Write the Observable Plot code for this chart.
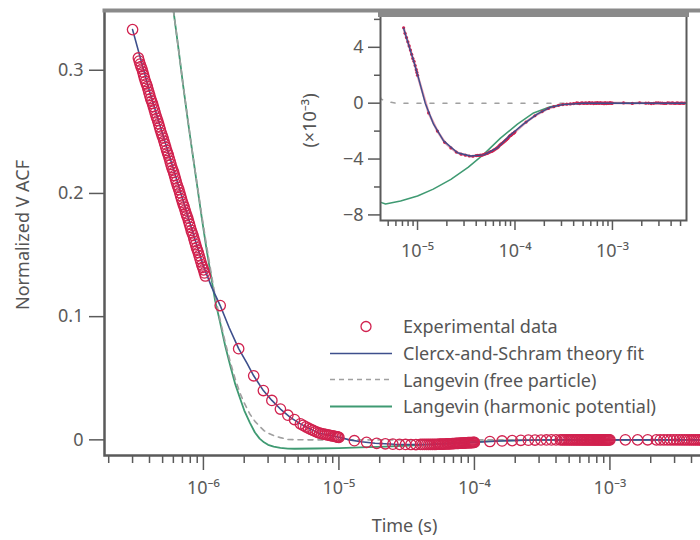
<!DOCTYPE html>
<html><head><meta charset="utf-8">
<script src="https://cdn.jsdelivr.net/npm/d3@7"></script>
<script src="https://cdn.jsdelivr.net/npm/@observablehq/plot@0.6"></script>
<style>
html,body{margin:0;padding:0;background:#fff;overflow:hidden;}
#wrap{position:relative;width:700px;height:540px;overflow:hidden;font-family:"Noto Sans",sans-serif;}
#main,#inset{position:absolute;top:0;}
#main{left:0;width:720px;} #inset{left:300px;width:400px;}
#main svg,#inset svg{max-width:none !important;}
#legend{position:absolute;left:330px;top:313px;font-size:18px;color:#555;}
.row{display:flex;align-items:center;height:26.7px;white-space:nowrap;}
.row svg{flex:none;}
</style></head><body>
<div id="wrap"><div id="main"></div><div id="inset"></div><div id="legend"></div></div>
<script>
// ---------- data (time in microseconds, normalized VACF) ----------
const expTime = [0.30,
 0.331,0.341,0.352,0.362,0.373,0.385,0.396,0.408,0.421,0.434,0.447,0.460,0.474,0.489,0.504,0.519,0.535,0.551,0.568,0.585,
 0.603,0.621,0.640,0.659,0.679,0.700,0.721,0.743,0.766,0.789,0.813,0.838,0.863,0.889,0.916,0.944,0.973,1.002,1.033,
 0.336,0.346,0.357,0.367,0.379,0.390,0.402,0.414,0.427,0.440,0.453,0.467,0.481,0.496,0.511,0.527,0.543,0.559,0.576,0.594,
 0.612,0.630,0.649,0.669,0.689,0.710,0.732,0.754,0.777,0.801,0.825,0.850,0.876,0.902,0.930,0.958,0.987,1.017,
 1.33,1.82,2.35,2.77,3.2,3.7,4.2,4.7,5.2,5.7,6.2,6.7,7.2,7.7,8.2,8.7,9.2,9.7,
 5.45,5.95,6.45,6.95,7.45,7.95,8.45,8.95,9.45,9.85,
 10,13,16,19,22,25,28,31,34,37,40,43,46,49,52,55,58,61,64,67,70,73,76,79,82,85,88,91,94,97,100,
 41.5,44.5,47.5,50.5,53.5,56.5,59.5,62.5,65.5,68.5,71.5,74.5,77.5,80.5,83.5,86.5,89.5,92.5,95.5,98.5,
 130,160,190,220,250,280,310,340,370,400,430,460,490,520,550,580,610,640,670,700,730,760,790,820,850,880,910,940,970,1000,
 445,475,505,535,565,595,625,655,685,715,745,775,805,835,865,895,925,955,985,
 1300,1600,1900,2200,2500,2800,3100,3400,3700,4000,4300,4600,4900,5200,5500,
 2350,2650,2950,3250,3550,3850,4150,4450,4750,5050,5350];
const expVACF = [0.333,
 0.310,0.305,0.301,0.296,0.291,0.287,0.282,0.277,0.273,0.268,0.263,0.259,0.254,0.249,0.245,0.240,0.235,0.231,0.226,0.221,
 0.217,0.212,0.207,0.203,0.198,0.193,0.189,0.184,0.180,0.175,0.170,0.166,0.161,0.156,0.152,0.147,0.142,0.138,0.133,
 0.3075,0.303,0.2985,0.2935,0.289,0.2845,0.2795,0.275,0.2705,0.2655,0.261,0.2565,0.2515,0.247,0.2425,0.2375,0.233,0.2285,0.2235,0.219,
 0.2145,0.2095,0.205,0.2005,0.1955,0.191,0.1865,0.182,0.1775,0.1725,0.168,0.1635,0.1585,0.154,0.1495,0.1445,0.140,0.1355,
 0.109,0.074,0.052,0.040,0.032,0.025,0.020,0.0165,0.013,0.0105,0.0085,0.0068,0.0054,0.0047,0.0041,0.0035,0.0030,0.0024,
 0.0118,0.0095,0.0077,0.0061,0.0050,0.0044,0.0038,0.0032,0.0027,0.0022,
 0.0020,-0.0007,-0.0020,-0.0028,-0.0032,-0.0035,-0.00365,-0.00372,-0.00378,-0.0038,-0.00375,-0.00373,-0.00372,-0.00365,-0.0036,-0.0035,-0.00345,-0.00335,-0.00325,-0.00315,-0.0030,-0.0029,-0.0028,-0.0027,-0.0026,-0.0025,-0.00235,-0.0023,-0.0022,-0.00215,-0.00205,
 -0.00374,-0.00372,-0.00368,-0.00362,-0.00355,-0.00347,-0.0034,-0.0033,-0.0032,-0.00307,-0.00295,-0.00285,-0.00275,-0.00265,-0.00255,-0.00242,-0.00232,-0.00225,-0.00217,-0.0021,
 -0.00135,-0.0009,-0.0006,-0.00038,-0.00025,-0.00015,-0.0001,-0.00007,-0.00005,-0.00003,0.00002,-0.00003,0.00003,0,-0.00002,0.00004,0.00001,-0.00003,0.00002,0.00004,-0.00001,0.00003,0,-0.00004,0.00002,0.00001,-0.00002,0.00003,0,0.00001,
 0,0.00001,-0.00002,0.00002,0.00001,-0.00001,0.00003,0,-0.00002,0.00001,0.00002,-0.00001,0,0.00002,-0.00003,0.00001,0,0.00002,-0.00001,
 0.00002,-0.00002,0.00003,0,-0.00003,0.00002,0.00001,-0.00002,0.00003,0,-0.00001,0.00002,-0.00002,0.00001,0,
 0.00001,-0.00001,0.00002,0,-0.00002,0.00001,0.00002,-0.00001,0,0.00001,-0.00001];

const fitTime = [0.30,0.40,0.50,0.60,0.70,0.80,0.90,1.0,1.15,1.33,1.55,1.82,2.1,2.35,2.77,3.2,3.7,4.4,5.2,6.2,7.2,8.0,8.9,10.2,12,14.6,18.5,25.7,35,48,66,89,122,169,230,310,500,1000,6000];
const fitVACF = [0.333,0.283,0.248,0.220,0.196,0.175,0.157,0.141,0.124,0.109,0.091,0.074,0.062,0.052,0.040,0.032,0.025,0.018,0.013,0.0085,0.00536,0.0043,0.00327,0.00184,0,-0.0015,-0.0027,-0.00355,-0.00378,-0.0037,-0.0032,-0.0023,-0.0015,-0.00078,-0.0003,-0.0001,0,0,0];

const freeTime = [0.55,0.60,0.65,0.71,0.77,0.83,0.90,0.97,1.05,1.13,1.22,1.33,1.45,1.58,1.72,1.86,2.0,2.2,2.4,2.6,2.8,3.0,3.3,3.7,4.2,5.0,6.0,10,100,1000,6000];
const freeVACF = [0.381,0.349,0.320,0.287,0.259,0.233,0.207,0.183,0.159,0.138,0.117,0.097,0.079,0.063,0.049,0.038,0.030,0.021,0.015,0.011,0.0075,0.0055,0.0035,0.0018,0.0003,0.0001,0,0,0,0,0];

const harmTime = [0.55,0.60,0.65,0.71,0.77,0.83,0.90,0.97,1.05,1.13,1.22,1.33,1.45,1.58,1.72,1.86,2.0,2.2,2.4,2.6,2.8,3.0,3.3,3.7,4.2,4.7,6.7,10,14.5,22,33,48,71,106,155,230,340,500,1000,6000];
const harmVACF = [0.381,0.349,0.320,0.287,0.258,0.233,0.206,0.181,0.156,0.135,0.113,0.095,0.076,0.060,0.045,0.034,0.024,0.014,0.006,0.001,-0.002,-0.004,-0.0055,-0.0065,-0.0071,-0.00722,-0.0070,-0.00665,-0.00615,-0.00545,-0.0046,-0.00365,-0.0025,-0.0015,-0.0007,-0.00025,-0.00005,0,0,0];

const seriesNames = ["Experimental data","Clercx-and-Schram theory fit","Langevin (free particle)","Langevin (harmonic potential)"];
const colors = {exp:"#d1224f", fit:"#3d4f8c", free:"#a0a0a0", harm:"#3f9a72"};

const mainYTicks = [0,0.1,0.2,0.3];
const mainYLabels = ["0","0.1","0.2","0.3"];
const mainXMajor = [1e-6,1e-5,1e-4,1e-3];
const mainXLabels = ["10\u207B\u2076","10\u207B\u2075","10\u207B\u2074","10\u207B\u00B3"];
const mainXMinor = [2e-7,3e-7,4e-7,5e-7,6e-7,7e-7,8e-7,9e-7,2e-6,3e-6,4e-6,5e-6,6e-6,7e-6,8e-6,9e-6,2e-5,3e-5,4e-5,5e-5,6e-5,7e-5,8e-5,9e-5,2e-4,3e-4,4e-4,5e-4,6e-4,7e-4,8e-4,9e-4,2e-3,3e-3,4e-3,5e-3,6e-3];

const insetYTicks = [-8,-4,0,4];
const insetYLabels = ["\u22128","\u22124","0","4"];
const insetYMinor = [-6,-2,2,6];
const insetXMajor = [1e-5,1e-4,1e-3];
const insetXLabels = ["10\u207B\u2075","10\u207B\u2074","10\u207B\u00B3"];
const insetXMinor = [5e-6,6e-6,7e-6,8e-6,9e-6,2e-5,3e-5,4e-5,5e-5,6e-5,7e-5,8e-5,9e-5,2e-4,3e-4,4e-4,5e-4,6e-4,7e-4,8e-4,9e-4,2e-3,3e-3,4e-3,5e-3];

// ---------- tables ----------
const US = 1e-6;
const tbl = (T, V, k = 1) => T.map((t, i) => ({t: t * US, v: V[i] * k})).sort((a, b) => a.t - b.t);
const exp = tbl(expTime, expVACF), fit = tbl(fitTime, fitVACF), free = tbl(freeTime, freeVACF), harm = tbl(harmTime, harmVACF);
const insetMin = 7.0 * US;
const expI = tbl(expTime, expVACF, 1000).filter(d => d.t >= insetMin);
const fitI = tbl(fitTime, fitVACF, 1000).filter(d => d.t >= insetMin);
const freeI = tbl(freeTime, freeVACF, 1000);
const harmI = tbl(harmTime, harmVACF, 1000);

const font = {fontFamily: "'Noto Sans', sans-serif", fontSize: "18px", color: "#5a5a5a", background: "transparent", overflow: "visible", maxWidth: "none"};

const main = Plot.plot({
  width: 720, height: 540,
  marginLeft: 104, marginRight: 0, marginTop: 10, marginBottom: 85,
  style: font,
  x: {type: "log", domain: [10 ** -6.73, 10 ** -2.184]},
  y: {domain: [-0.0127, 0.3485]},
  marks: [
    Plot.axisY({ticks: mainYTicks, tickSize: 15, tickPadding: 6, strokeWidth: 1.5, tickFormat: d => mainYLabels[mainYTicks.indexOf(d)], label: null}),
    Plot.axisX({ticks: mainXMinor, tickSize: 8, strokeWidth: 1.5, tickFormat: () => "", label: null}),
    Plot.axisX({ticks: mainXMajor, tickSize: 15, tickPadding: 11, strokeWidth: 1.5, tickFormat: d => mainXLabels[mainXMajor.indexOf(d)], label: null}),
    Plot.line(harm, {x: "t", y: "v", stroke: colors.harm, strokeWidth: 1.8, clip: true}),
    Plot.line(free, {x: "t", y: "v", stroke: colors.free, strokeWidth: 1.6, strokeDasharray: "5,5", clip: true}),
    Plot.line(fit, {x: "t", y: "v", stroke: colors.fit, strokeWidth: 1.6, clip: true}),
    Plot.dot(exp, {x: "t", y: "v", r: 5.2, fill: "none", stroke: colors.exp, strokeWidth: 1.3, clip: true}),
    Plot.frame({stroke: "#5a5a5a", strokeWidth: 2.5}),
    Plot.frame({anchor: "top", stroke: "#8a8a8a", strokeWidth: 4}),
    Plot.text(["Time (s)"], {text: d => d, frameAnchor: "bottom", textAnchor: "middle", dx: -8, dy: 76, fill: "#555"}),
    Plot.text(["Normalized V ACF"], {text: d => d, frameAnchor: "left", textAnchor: "middle", rotate: -90, dx: -81, dy: 2, fill: "#555"})
  ]
});
document.getElementById("main").append(main);

const inset = Plot.plot({
  width: 400, height: 265,
  marginLeft: 80, marginRight: 14, marginTop: 14, marginBottom: 45,
  style: font,
  x: {type: "log", domain: [10 ** -5.38, 10 ** -2.24]},
  y: {domain: [-8.4, 6.35]},
  marks: [
    Plot.axisY({ticks: insetYMinor, tickSize: 6, strokeWidth: 1.5, tickFormat: () => "", label: null}),
    Plot.axisY({ticks: insetYTicks, tickSize: 12, tickPadding: 5, strokeWidth: 1.5, tickFormat: d => insetYLabels[insetYTicks.indexOf(d)], label: null}),
    Plot.axisX({ticks: insetXMinor, tickSize: 6, strokeWidth: 1.5, tickFormat: () => "", label: null}),
    Plot.axisX({ticks: insetXMajor, tickSize: 10, tickPadding: 14, strokeWidth: 1.5, tickFormat: d => insetXLabels[insetXMajor.indexOf(d)], label: null}),
    Plot.line(freeI, {x: "t", y: "v", stroke: colors.free, strokeWidth: 1.6, strokeDasharray: "4,9", clip: true}),
    Plot.line(harmI, {x: "t", y: "v", stroke: colors.harm, strokeWidth: 1.5, clip: true}),
    Plot.line(expI, {x: "t", y: "v", stroke: colors.exp, strokeWidth: 2.5, strokeOpacity: 0.45, clip: true}),
    Plot.dot(expI, {x: "t", y: "v", r: 1.6, fill: colors.exp, clip: true}),
    Plot.line(fitI, {x: "t", y: "v", stroke: colors.fit, strokeWidth: 1.4, clip: true}),
    Plot.frame({stroke: "#5a5a5a", strokeWidth: 2}),
    Plot.frame({anchor: "top", stroke: "#8a8a8a", strokeWidth: 5}),
    Plot.text(["(\u00D710\u207B\u00B3)"], {text: d => d, frameAnchor: "left", textAnchor: "middle", rotate: -90, dx: -70, dy: 3, fill: "#555"})
  ]
});
document.getElementById("inset").append(inset);

// ---------- legend ----------
const leg = document.getElementById("legend");
const swatch = [
  `<circle cx="36" cy="13.5" r="5" fill="none" stroke="${colors.exp}" stroke-width="1.3"/>`,
  `<line x1="0" x2="62" y1="13.5" y2="13.5" stroke="${colors.fit}" stroke-width="1.6"/>`,
  `<line x1="0" x2="62" y1="13.5" y2="13.5" stroke="${colors.free}" stroke-width="1.6" stroke-dasharray="5,4"/>`,
  `<line x1="0" x2="62" y1="13.5" y2="13.5" stroke="${colors.harm}" stroke-width="1.8"/>`
];
seriesNames.forEach((name, i) => {
  const row = document.createElement("div");
  row.className = "row";
  row.innerHTML = `<svg width="73" height="27">${swatch[i]}</svg><span>${name}</span>`;
  leg.append(row);
});
</script>
</body></html>
